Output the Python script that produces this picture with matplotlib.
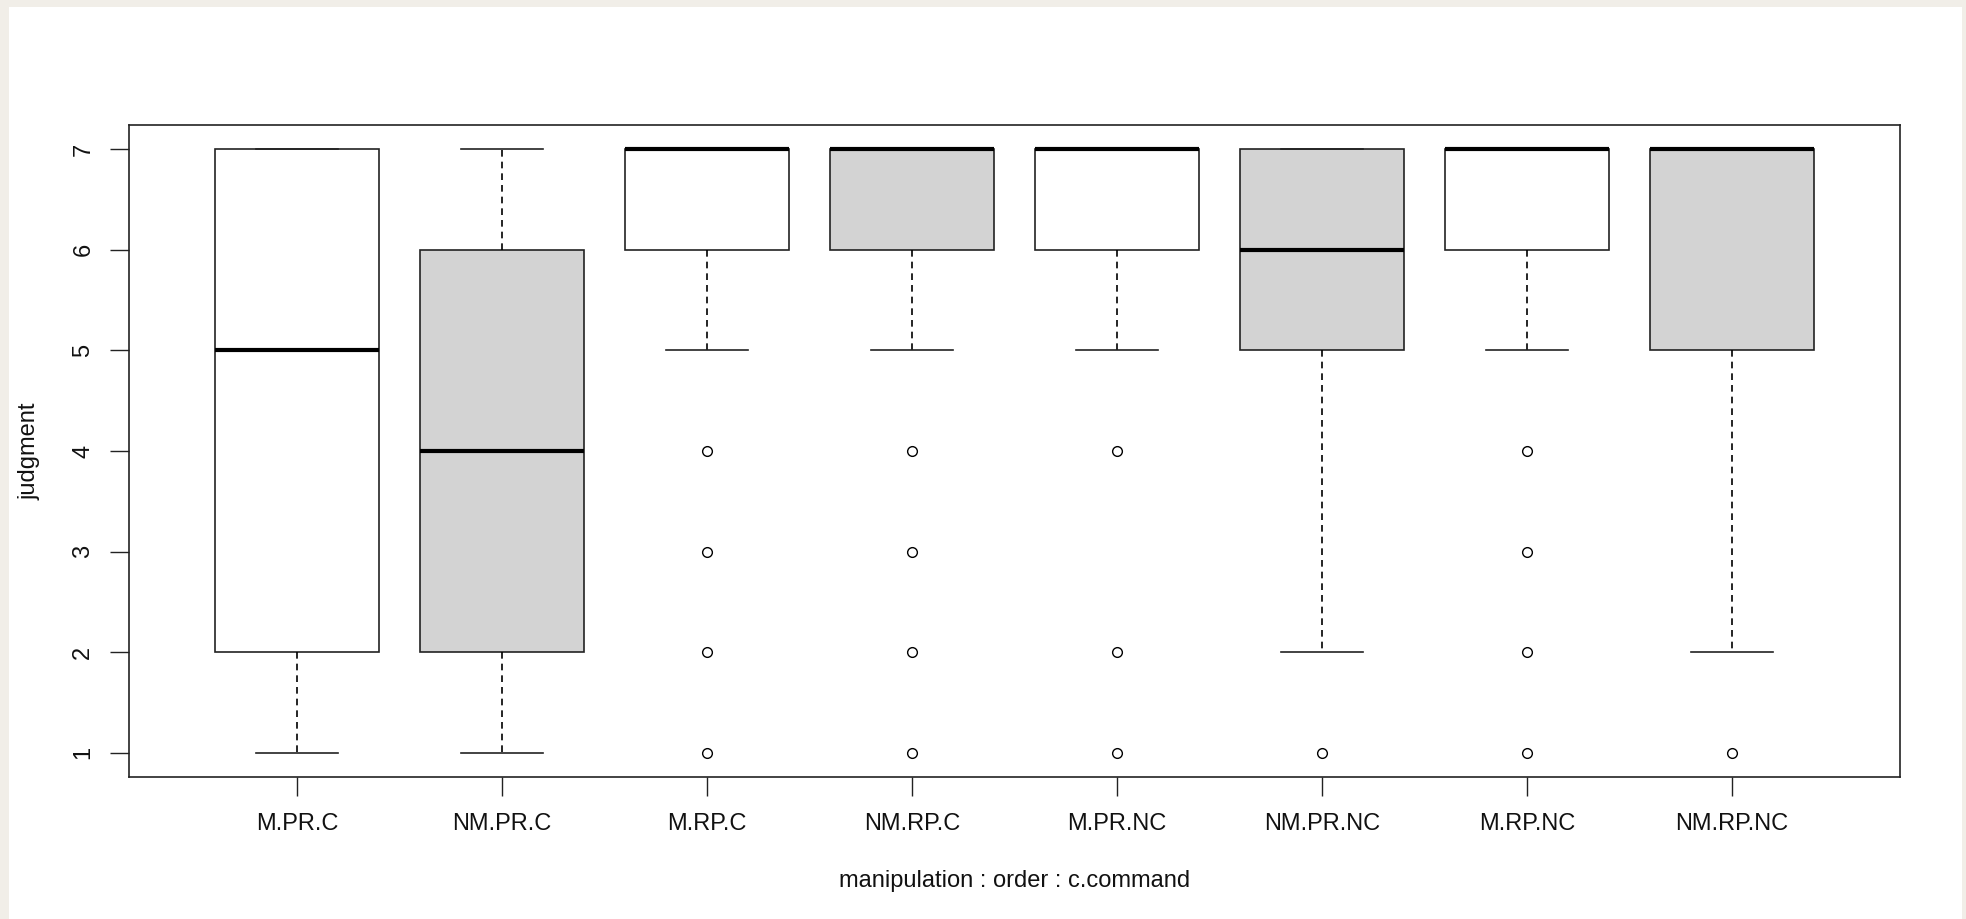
import matplotlib
matplotlib.use("Agg")
import matplotlib.pyplot as plt
from matplotlib.patches import Rectangle

plt.rcParams['font.family'] = ['Liberation Sans', 'DejaVu Sans']

categories = ["M.PR.C", "NM.PR.C", "M.RP.C", "NM.RP.C",
              "M.PR.NC", "NM.PR.NC", "M.RP.NC", "NM.RP.NC"]
q1 =      [2, 2, 6, 6, 6, 5, 6, 5]
median =  [5, 4, 7, 7, 7, 6, 7, 7]
q3 =      [7, 6, 7, 7, 7, 7, 7, 7]
whislo =  [1, 1, 5, 5, 5, 2, 5, 2]
whishi =  [7, 7, 7, 7, 7, 7, 7, 7]
outliers = [[], [], [4, 3, 2, 1], [4, 3, 2, 1], [4, 2, 1], [1], [4, 3, 2, 1], [1]]
fills = ["white", "lightgray"] * 4
yticks = [1, 2, 3, 4, 5, 6, 7]
xlabel = "manipulation : order : c.command"
ylabel = "judgment"

W, H = 1966, 919
fig = plt.figure(figsize=(W / 100, H / 100), dpi=100, facecolor="#f1eee8")
fig.patches.append(Rectangle((9 / W, 0), (1962 - 9) / W, (H - 7) / H,
                             transform=fig.transFigure, facecolor="white",
                             edgecolor="none", zorder=-10))

ax = fig.add_axes([129 / W, 1 - 777 / H, (1900 - 129) / W, (777 - 125) / H])
ax.set_zorder(5)
ax.set_facecolor("white")

stats = []
for i, c in enumerate(categories):
    stats.append(dict(label=c, q1=q1[i], med=median[i], q3=q3[i],
                      whislo=whislo[i], whishi=whishi[i], fliers=outliers[i]))

lw = 1.2
bp = ax.bxp(stats, positions=range(1, 9), widths=0.8, patch_artist=True,
            showfliers=True,
            boxprops=dict(linewidth=lw, edgecolor="#222222"),
            medianprops=dict(linewidth=3.0, color="black", solid_capstyle="butt"),
            whiskerprops=dict(linewidth=lw, linestyle=(0, (4, 3)), color="black"),
            capprops=dict(linewidth=lw, color="#222222"),
            flierprops=dict(marker="o", markersize=7, markerfacecolor="none",
                            markeredgecolor="black", markeredgewidth=1.0,
                            linestyle="none"),
            capwidths=0.4)
for patch, f in zip(bp["boxes"], fills):
    patch.set_facecolor(f)

ax.set_xlim(0.18, 8.82)
ax.set_ylim(0.76, 7.24)
ax.set_yticks(yticks)
ax.set_yticklabels([str(v) for v in yticks], rotation=90, va="center")
ax.set_xticks(range(1, 9))
ax.set_xticklabels(categories)
ax.tick_params(axis="both", length=14, width=1.0, color="#222222",
               labelsize=17, labelcolor="#111111")
ax.tick_params(axis="y", pad=11)
ax.tick_params(axis="x", pad=12)
for s in ax.spines.values():
    s.set_linewidth(1.2)
    s.set_color("#222222")

fig.text(1015 / W, 1 - 881 / H, xlabel, ha="center", va="center",
         fontsize=17, color="#111111")
fig.text(30 / W, 1 - 451 / H, ylabel, ha="center", va="center",
         rotation=90, fontsize=17, color="#111111")

fig.savefig("out.png", dpi=100, facecolor=fig.get_facecolor())
